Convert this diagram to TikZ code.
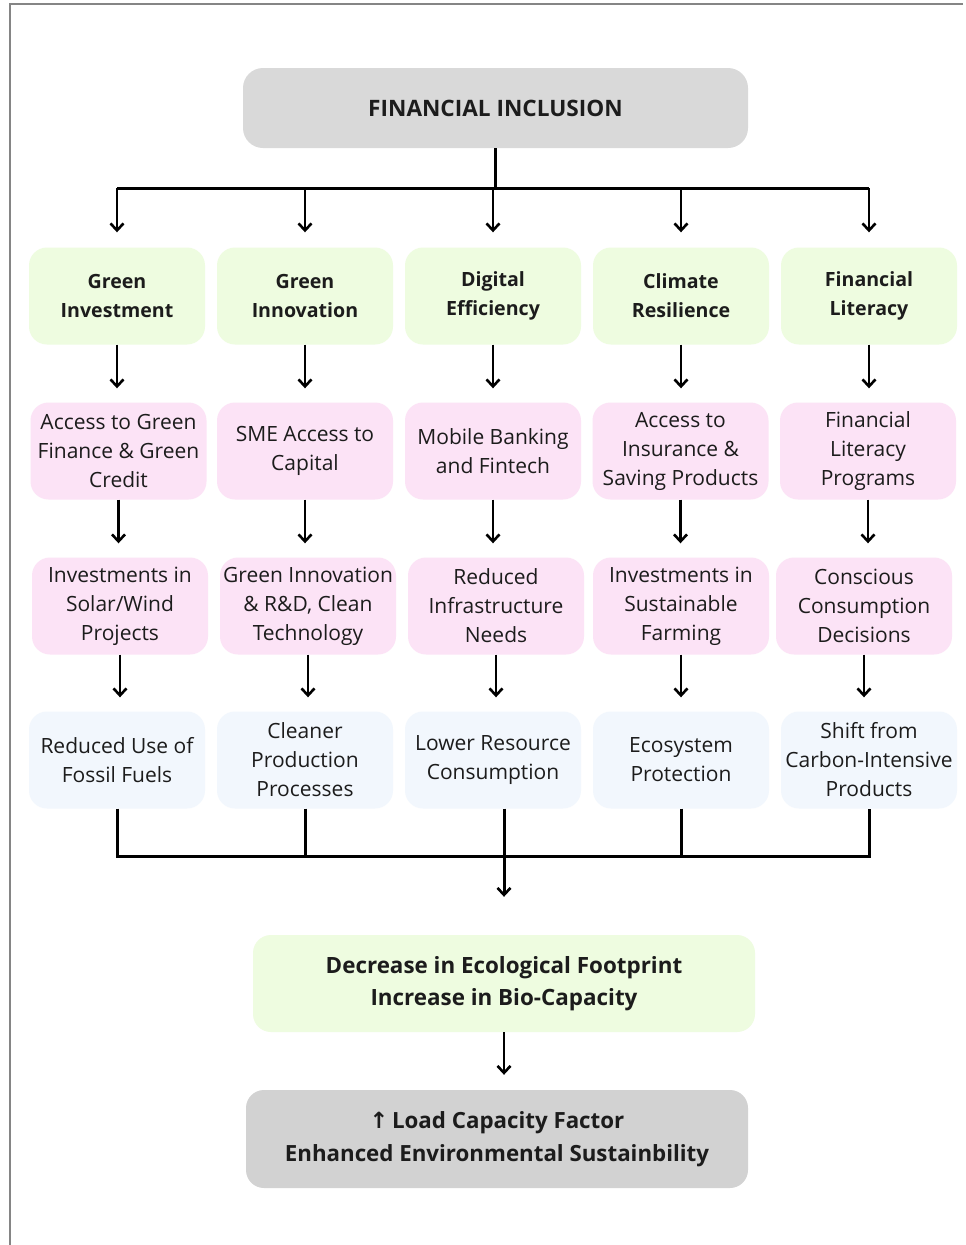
\documentclass[tikz,border=0pt]{standalone}
\usepackage{fontspec}
\setmainfont{Open Sans}
\newfontfamily\arrowfont{DejaVu Sans}
\usetikzlibrary{arrows.meta}
\definecolor{gfill}{HTML}{EEFCE0}
\definecolor{pfill}{HTML}{FCE3F6}
\definecolor{bfill}{HTML}{F2F7FD}
\definecolor{topfill}{HTML}{D9D9D9}
\definecolor{botfill}{HTML}{D2D2D2}
\definecolor{txt}{HTML}{1C1C1C}
\definecolor{frame}{HTML}{858585}
\tikzset{
  box/.style={rounded corners=18pt, minimum width=176pt, minimum height=97pt, align=center, text=txt, inner sep=2pt},
  gbox/.style={box, fill=gfill, font=\fontsize{19.6}{29}\selectfont\bfseries},
  pbox/.style={box, fill=pfill, font=\fontsize{21}{29}\selectfont},
  bbox/.style={box, fill=bfill, font=\fontsize{21}{29}\selectfont},
  wire/.style={line width=3pt, black},
  arr/.style={line width=2.6pt, black, -{Straight Barb[length=7pt,width=13pt,line width=2.6pt]}},
}
\begin{document}
\begin{tikzpicture}[x=1pt,y=-1pt]
\useasboundingbox (0,0) rectangle (966,1245);
\fill[white] (0,0) rectangle (966,1245);
\draw[frame, line width=2.2pt] (10,1245) -- (10,4) -- (963,4);

\node[box, fill=topfill, minimum width=505pt, minimum height=80pt, rounded corners=20pt, font=\fontsize{22.6}{28}\selectfont\bfseries] (top) at (495.5,108) {FINANCIAL INCLUSION};

% row 1
\node[gbox] (g1) at (117,296) {Green\\Investment};
\node[gbox] (g2) at (305,296) {Green\\Innovation};
\node[gbox] (g3) at (493,296) {Digital\\Efficiency};
\node[gbox] (g4) at (681,296) {Climate\\Resilience};
\node[gbox] (g5) at (869,296) {Financial\\Literacy};

% row 2
\node[pbox] (p1) at (118.5,451) {Access to Green\\Finance \& Green\\Credit};
\node[pbox] (p2) at (305,451) {SME Access to\\Capital};
\node[pbox] (p3) at (493,451) {Mobile Banking\\and Fintech};
\node[pbox] (p4) at (680.5,451) {Access to\\Insurance \&\\Saving Products};
\node[pbox] (p5) at (868,451) {Financial\\Literacy\\Programs};

% row 3
\node[pbox] (q1) at (120,606) {Investments in\\Solar/Wind\\Projects};
\node[pbox] (q2) at (308,606) {Green Innovation\\\& R\&D, Clean\\Technology};
\node[pbox] (q3) at (496,606) {Reduced\\Infrastructure\\Needs};
\node[pbox] (q4) at (681,606) {Investments in\\Sustainable\\Farming};
\node[pbox] (q5) at (864,606) {Conscious\\Consumption\\Decisions};

% row 4
\node[bbox] (b1) at (117,760) {Reduced Use of\\Fossil Fuels};
\node[bbox] (b2) at (305,760) {Cleaner\\Production\\Processes};
\node[bbox] (b3) at (493,760) {Lower Resource\\Consumption};
\node[bbox] (b4) at (681,760) {Ecosystem\\Protection};
\node[bbox] (b5) at (869,760) {Shift from\\Carbon-Intensive\\Products};

\node[box, fill=gfill, minimum width=502pt, minimum height=97pt, font=\fontsize{22.4}{32}\selectfont\bfseries] (dec) at (504,983.5) {Decrease in Ecological Footprint\\Increase in Bio-Capacity};
\node[box, fill=botfill, minimum width=502pt, minimum height=98pt, font=\fontsize{22.3}{33}\selectfont\bfseries] (fin) at (497,1139) {{\arrowfont\bfseries ↑}\,Load Capacity Factor\\Enhanced Environmental Sustainbility};

% top distribution
\coordinate (h1) at (0,188);
\draw[wire] (top.south) -- (top.south |- h1);
\draw[wire] (g1.north |- h1) -- (g5.north |- h1);
\foreach \i in {1,...,5}{
  \draw[arr] (g\i.north |- h1) -- ([yshift=15pt]g\i.north);
}

% row arrows
\foreach \i in {1,...,5}{
  \draw[arr] (g\i.south) -- ([yshift=14pt]p\i.north -| g\i.south);
  \draw[arr] (p\i.south) -- ([yshift=14pt]q\i.north -| p\i.south);
  \draw[arr] (q\i.south) -- ([yshift=14pt]b\i.north -| q\i.south);
}

% bottom collection
\coordinate (h2) at (0,856);
\draw[wire] (b1.south) -- (b1.south |- h2) -- (b5.south |- h2) -- (b5.south);
\draw[wire] (b2.south) -- (b2.south |- h2);
\draw[wire] (b4.south) -- (b4.south |- h2);
\draw[arr, line width=3pt] (b3.south -| dec.north) -- ([yshift=38pt]dec.north);
\draw[arr] (dec.south) -- ([yshift=15pt]fin.north -| dec.south);
\end{tikzpicture}
\end{document}
